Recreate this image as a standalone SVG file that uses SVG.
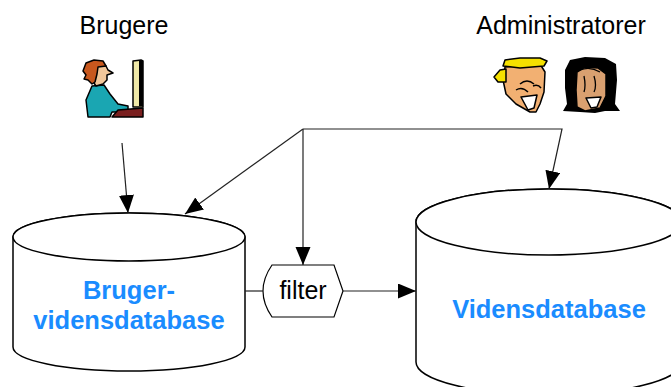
<svg xmlns="http://www.w3.org/2000/svg" width="671" height="387" viewBox="0 0 671 387">
  <defs>
    <marker id="arrow" markerUnits="userSpaceOnUse" markerWidth="19" markerHeight="16" refX="18" refY="7.5" orient="auto">
      <path d="M0,0 L18,7.5 L0,15 Z" fill="#000"/>
    </marker>
    <style>
      .label { font-family: "Liberation Sans", Arial, sans-serif; font-size: 25px; fill: #000; text-anchor: middle; }
      .db { fill: #fff; stroke: #000; stroke-width: 1.5; }
      .dbtext { font-family: "Liberation Sans", Arial, sans-serif; font-size: 25.5px; font-weight: bold; fill: #1a8cff; text-anchor: middle; }
      .conn { fill: none; stroke: #222; stroke-width: 1.2; }
      .ink { stroke: #000; stroke-width: 1.5; stroke-linejoin: round; }
    </style>
  </defs>

  <rect width="671" height="387" fill="#fff"/>

  <!-- role labels -->
  <text class="label" x="124" y="34">Brugere</text>
  <text class="label" x="561" y="34">Administratorer</text>

  <!-- user at a computer -->
  <g id="user-icon">
    <!-- monitor -->
    <path class="ink" d="M133,61 L141,60 L143,61 L143,107 L133,107 Z" fill="#f0e9a8"/>
    <path d="M139,61 L143,61 L143,106 L139,106 Z" fill="#000"/>
    <!-- body -->
    <path class="ink" d="M92,86 L104,85 L110,94 L118,104 L128,106 L128,112 L112,112 L110,117 L88,117 L86,100 Z" fill="#1aa6b2"/>
    <!-- keyboard / desk -->
    <path class="ink" d="M118,110 L143,108 L143,117 L112,117 Z" fill="#7a1f1f"/>
    <!-- face -->
    <path class="ink" d="M92,68 L100,64 L106,66 L108,70 L113,73 L107,75 L107,80 L103,84 L96,86 L92,80 Z" fill="#f2c79a"/>
    <!-- hair -->
    <path class="ink" d="M83,71 L86,63 L94,60 L103,61 L106,66 L98,67 L97,74 L95,82 L92,84 L88,80 L84,79 L86,75 Z" fill="#c8581e"/>
  </g>

  <!-- administrators -->
  <g id="admin-icon-1">
    <path class="ink" d="M505,67 L540,64 L545,72 L544,92 L540,104 L536,112 L530,112 L516,104 L506,94 L503,80 Z" fill="#f2b072"/>
    <!-- cap -->
    <path class="ink" d="M503,66 L505,60 L520,58 L540,58 L547,61 L544,66 L520,68 Z" fill="#f5e000"/>
    <path class="ink" d="M494,77 L500,70 L506,69 L506,82 L498,82 Z" fill="#f5e000"/>
    <!-- features -->
    <path d="M520,84 Q527,78 534,84 M516,90 Q522,86 528,92 M533,86 Q538,84 541,88" fill="none" stroke="#000" stroke-width="1.5"/>
    <path class="ink" d="M521,97 L537,95 L534,108 L528,110 Z" fill="#fff"/>
  </g>

  <g id="admin-icon-2">
    <!-- hair -->
    <path d="M565,70 L570,60 L585,57 L605,58 L616,64 L617,80 L615,104 L620,111 L605,111 L595,113 L580,112 L563,111 L567,104 L565,88 Z" fill="#000"/>
    <!-- face -->
    <path class="ink" d="M577,72 L585,67 L598,68 L606,74 L606,96 L600,108 L585,111 L577,107 L576,90 Z" fill="#d9a070"/>
    <path d="M584,76 Q586,86 584,92 M594,76 Q597,86 594,92 M580,70 Q590,66 600,72" fill="none" stroke="#000" stroke-width="1.3"/>
    <path class="ink" d="M586,98 L601,97 L597,107 L591,108 Z" fill="#fff"/>
  </g>

  <!-- user knowledge base -->
  <g id="bruger-db">
    <path class="db" d="M13,237 L13,347 A116,24 0 0 0 245,347 L245,237 A116,24 0 0 0 13,237 Z"/>
    <ellipse class="db" cx="129" cy="237" rx="116" ry="24"/>
    <text class="dbtext" x="129" y="299">Bruger-</text>
    <text class="dbtext" x="129" y="329">vidensdatabase</text>
  </g>

  <!-- knowledge base -->
  <g id="videns-db">
    <path class="db" d="M416,222 L416,362 A133,33 0 0 0 682,362 L682,222 A133,33 0 0 0 416,222 Z"/>
    <ellipse class="db" cx="549" cy="222" rx="133" ry="33"/>
    <text class="dbtext" x="549" y="318">Vidensdatabase</text>
  </g>

  <!-- filter process -->
  <g id="filter">
    <path d="M272,265 L334,265 L343,291 L334,317 L272,317 Q263,304 263,291 Q263,278 272,265 Z" fill="#fff" stroke="#000" stroke-width="1.2"/>
    <text class="label" x="303" y="299">filter</text>
  </g>

  <!-- connectors -->
  <g id="connectors">
    <line class="conn" x1="122" y1="143" x2="128" y2="213" marker-end="url(#arrow)"/>
    <polyline class="conn" points="303,129 562,129 549,189" marker-end="url(#arrow)"/>
    <line class="conn" x1="303" y1="129" x2="303" y2="265" marker-end="url(#arrow)"/>
    <line class="conn" x1="303" y1="129" x2="185" y2="214" marker-end="url(#arrow)"/>
    <line class="conn" x1="245" y1="291" x2="263" y2="291"/>
    <line class="conn" x1="343" y1="291" x2="416" y2="291" marker-end="url(#arrow)"/>
  </g>
</svg>
